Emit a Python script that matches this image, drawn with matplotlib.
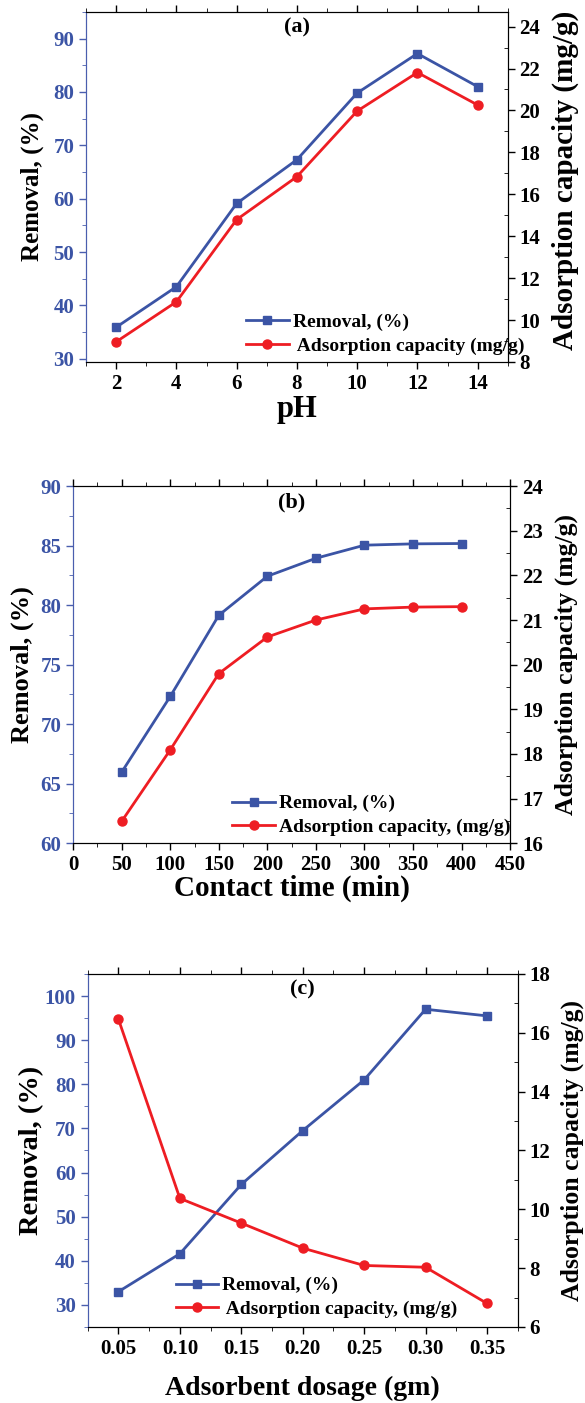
import matplotlib
matplotlib.use("Agg")
import matplotlib.pyplot as plt
from matplotlib.ticker import MultipleLocator, FormatStrFormatter

plt.rcParams['font.family'] = ['Liberation Serif', 'DejaVu Serif']
plt.rcParams['font.weight'] = 'bold'

BLUE = '#3B54A5'
RED = '#EE1D23'
LBLUE = '#4A5EAE'

# (a) effect of pH
ph = [2, 4, 6, 8, 10, 12, 14]
ph_removal = [35.9, 43.5, 59.1, 67.3, 79.8, 87.2, 81.0]
ph_capacity = [8.96, 10.87, 14.79, 16.84, 19.97, 21.81, 20.26]

# (b) effect of contact time
time_min = [50, 100, 150, 200, 250, 300, 350, 400]
time_removal = [65.97, 72.33, 79.15, 82.43, 83.94, 85.04, 85.15, 85.18]
time_capacity = [16.49, 18.09, 19.80, 20.62, 21.0, 21.25, 21.29, 21.30]

# (c) effect of adsorbent dosage
dose = [0.05, 0.10, 0.15, 0.20, 0.25, 0.30, 0.35]
dose_removal = [33.0, 41.6, 57.3, 69.5, 81.0, 97.0, 95.5]
dose_capacity = [16.46, 10.37, 9.53, 8.68, 8.09, 8.03, 6.80]

fig = plt.figure(figsize=(5.85, 14.03), dpi=100)


def panel(rect, x, rem, cap, tag, xlab, cap_lab, xlim, xmaj, xmin, ylim, ymaj, ymin,
          y2lim, y2maj, y2min, leg_anchor, pos, sizes, xfmt=None):
    ax = fig.add_axes(rect)
    ax2 = ax.twinx()
    l1, = ax.plot(x, rem, '-s', color=BLUE, lw=2.0, ms=6, label='Removal, (%)')
    l2, = ax2.plot(x, cap, '-o', color=RED, lw=2.0, ms=6.5, label=cap_lab)
    ax.set_xlim(*xlim)
    ax.set_ylim(*ylim)
    ax2.set_ylim(*y2lim)
    ax.xaxis.set_major_locator(MultipleLocator(xmaj))
    ax.xaxis.set_minor_locator(MultipleLocator(xmin))
    ax.yaxis.set_major_locator(MultipleLocator(ymaj))
    ax.yaxis.set_minor_locator(MultipleLocator(ymin))
    ax2.yaxis.set_major_locator(MultipleLocator(y2maj))
    ax2.yaxis.set_minor_locator(MultipleLocator(y2min))
    if xfmt:
        ax.xaxis.set_major_formatter(xfmt)

    ax.spines['left'].set_color(LBLUE)
    ax2.spines['left'].set_color(LBLUE)
    for s in ['top', 'bottom', 'right']:
        ax2.spines[s].set_color('black')
    ax.tick_params(axis='y', colors=LBLUE, labelsize=15, direction='out', length=5, width=1)
    ax.tick_params(axis='y', which='minor', colors=LBLUE, direction='out', length=3)
    ax.tick_params(axis='x', labelsize=15, direction='out', length=5, width=1, top=True)
    ax.tick_params(axis='x', which='minor', direction='out', length=3, top=True)
    ax2.tick_params(axis='y', labelsize=15, direction='out', length=5, width=1)
    ax2.tick_params(axis='y', which='minor', direction='in', length=3)
    for t in ax.get_yticklabels():
        t.set_color(BLUE)

    ax.set_xlabel(xlab, fontsize=sizes[2], fontweight='bold')
    ax.set_ylabel('Removal, (%)', fontsize=sizes[0], fontweight='bold')
    ax2.set_ylabel('Adsorption capacity (mg/g)', fontsize=sizes[1], fontweight='bold')
    ax.yaxis.set_label_coords(pos[0], 0.5)
    ax2.yaxis.set_label_coords(pos[1], pos[3])
    ax.xaxis.set_label_coords(0.5, pos[2])
    ax.yaxis.label.set_va('center')
    ax2.yaxis.label.set_va('center')
    ax.xaxis.label.set_va('center')

    ax.text(0.5, 0.955, tag, transform=ax.transAxes, ha='center', va='center',
            fontsize=16, fontweight='bold')
    ax2.legend([l1, l2], ['Removal, (%)', cap_lab], loc='lower left',
               bbox_to_anchor=leg_anchor, frameon=False, fontsize=14,
               handlelength=2.2, handletextpad=0.2, labelspacing=0.3,
               borderaxespad=0.0, borderpad=0.1)
    return ax, ax2


panel([0.147, 0.742, 0.721, 0.2495], ph, ph_removal, ph_capacity, '(a)', 'pH',
      ' Adsorption capacity (mg/g)', (1, 15), 2, 1, (29.4, 95), 10, 5,
      (8, 24.7), 2, 1, (0.375, 0.015), (-0.128, 1.137, -0.137, 0.52), (18, 21, 22))

panel([0.125, 0.399, 0.747, 0.2545], time_min, time_removal, time_capacity, '(b)',
      'Contact time (min)', 'Adsorption capacity, (mg/g)', (0, 450), 50, 25,
      (60, 90), 5, 2.5, (16, 24), 1, 0.5, (0.36, 0.015), (-0.117, 1.128, -0.126, 0.5),
      (19, 18.5, 21))

panel([0.150, 0.0542, 0.735, 0.2516], dose, dose_removal, dose_capacity, '(c)',
      'Adsorbent dosage (gm)', ' Adsorption capacity, (mg/g)', (0.025, 0.375), 0.05, 0.025,
      (25, 105), 10, 5, (6, 18), 2, 1, (0.2, 0.02), (-0.13, 1.126, -0.173, 0.5),
      (20.5, 18.5, 20), xfmt=FormatStrFormatter('%.2f'))

fig.savefig('out.png', dpi=100)
